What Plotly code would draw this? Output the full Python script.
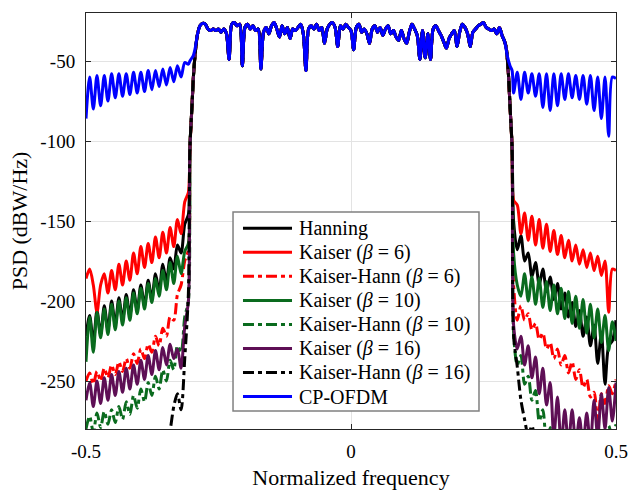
import numpy as np
import plotly.graph_objects as go

# ---------------- frequency bins ----------------
# sidelobe bins (half-ripple spacing) on each side of the occupied band
f_left = np.round(np.linspace(-0.5, -0.3068, 29), 4)
f_right = np.round(np.linspace(0.3068, 0.5, 29), 4)
# occupied band
f_pass = np.round(np.linspace(-0.29, 0.29, 117), 3)

# band edges shared by the windowed waveforms
edge_left_f = [-0.304, -0.300, -0.297, -0.293]
edge_left_db = [-105, -78, -58, -42]
edge_right_f = [0.293, 0.297, 0.300, 0.304]
edge_right_db = [-42, -58, -78, -105]

# band edges of plain CP-OFDM
cp_edge_left_f = [-0.304, -0.298, -0.294]
cp_edge_left_db = [-50, -47, -42]
cp_edge_right_f = [0.295, 0.300, 0.304]
cp_edge_right_db = [-47, -53, -56]

# in-band PSD (dBW/Hz), common to all waveforms
pass_db = [-34, -28, -26.5, -27, -30, -31, -30, -31, -30, -32,
           -30, -33, -49, -27, -26, -28, -27, -53, -29, -27,
           -30, -28, -31, -30, -55, -32, -29, -33, -28, -26,
           -30, -35, -28, -33, -29, -36, -30, -31, -29, -27,
           -33, -56, -30, -28, -30, -27, -31, -29, -39, -30,
           -27, -26, -29, -41, -28, -30, -27, -29, -31, -43,
           -29, -27, -32, -30, -33, -39, -30, -28, -32, -29,
           -34, -30, -28, -33, -31, -35, -37, -31, -36, -39,
           -32, -27, -30, -34, -49, -31, -48, -33, -49, -30,
           -28, -31, -34, -38, -42, -36, -33, -31, -41, -32,
           -27, -29, -33, -41, -32, -30, -28, -27, -26, -29,
           -30, -31, -30, -33, -29, -34, -38]

# ---------------- out-of-band PSD (dBW/Hz) ----------------
hanning_left = [-222, -209, -226, -206, -221, -203, -218, -200, -215, -198,
                -212, -196, -209, -193, -206, -190, -203, -187, -199, -183,
                -194, -177, -188, -173, -180, -165, -170, -152, -146]
hanning_right = [-150, -168, -159, -175, -170, -185, -176, -190, -180, -194,
                 -185, -199, -189, -205, -195, -210, -201, -216, -206, -222,
                 -210, -228, -215, -239, -220, -252, -228, -225, -212]

kaiser6_left = [-186, -180, -190, -207, -190, -183, -195, -181, -193, -177,
                -190, -175, -187, -170, -183, -166, -179, -164, -176, -160,
                -173, -157, -170, -154, -166, -149, -158, -138, -132]
kaiser6_right = [-137, -140, -158, -145, -162, -147, -165, -149, -167, -152,
                 -169, -156, -171, -159, -173, -162, -175, -165, -177, -168,
                 -179, -170, -181, -172, -184, -175, -207, -180, -181]

kh6_left = [-250, -245, -252, -244, -250, -242, -248, -240, -246, -238,
            -244, -236, -242, -233, -239, -230, -236, -227, -232, -222,
            -228, -217, -222, -210, -212, -196, -190, -175, -168]
kh6_right = [-190, -212, -203, -212, -208, -218, -214, -224, -220, -230,
             -226, -236, -230, -240, -234, -245, -238, -249, -243, -254,
             -249, -260, -257, -277, -258, -264, -253, -258, -249]

kaiser10_left = [-238, -210, -232, -207, -223, -205, -221, -202, -218, -200,
                 -215, -198, -212, -195, -208, -192, -205, -189, -201, -186,
                 -197, -181, -193, -176, -189, -172, -183, -169, -164]
kaiser10_right = [-170, -190, -197, -183, -200, -185, -202, -186, -204, -188,
                  -206, -190, -208, -192, -211, -194, -214, -197, -217, -199,
                  -220, -202, -223, -205, -226, -209, -231, -213, -225]

kh10_left = [-280, -272, -282, -270, -279, -269, -277, -268, -276, -266,
             -274, -263, -271, -259, -267, -255, -263, -251, -259, -247,
             -255, -243, -250, -237, -243, -228, -232, -210, -200]
kh10_right = [-220, -240, -234, -252, -247, -262, -256, -275, -268, -290,
              -279, -295, -290, -296, -291, -297, -292, -296, -290, -295,
              -289, -294, -288, -293, -287, -290, -278, -285, -277]

kaiser16_left = [-262, -251, -266, -250, -264, -248, -262, -246, -259, -244,
                 -257, -242, -255, -240, -252, -237, -249, -234, -246, -231,
                 -243, -229, -240, -227, -236, -230, -242, -216, -200]
kaiser16_right = [-215, -230, -222, -240, -228, -248, -235, -258, -242, -265,
                  -251, -285, -260, -290, -268, -290, -268, -290, -273, -290,
                  -270, -290, -262, -285, -258, -280, -254, -275, -251]

kh16_left = [None] * 22 + [-292, -281, -266, -258, -268, -236, -195]
kh16_right = [-222, -241, -262, -274, -284, -278, -292] + [None] * 22

cp_left = [-86, -60, -80, -59, -78, -59, -75, -58, -73, -58,
           -72, -58, -71, -57, -70, -57, -69, -56, -68, -56,
           -66, -55, -65, -54, -63, -53, -60, -51, -52]
cp_right = [-70, -57, -74, -57, -70, -58, -72, -58, -79, -58,
            -81, -58, -78, -58, -74, -58, -73, -59, -74, -59,
            -77, -59, -81, -60, -86, -60, -97, -60, -61]

# ---------------- axis ticks ----------------
x_ticks = [-0.5, 0, 0.5]
x_tick_text = ["-0.5", "0", "0.5"]
y_ticks = [-250, -200, -150, -100, -50]
y_tick_text = ["-250", "-200", "-150", "-100", "-50"]

FONT = "Liberation Serif"
GREEN = "#0a6b1e"
PURPLE = "#5e0f55"
DASHDOT = "11px,4px,4px,4px"
LW = 3


def windowed(left, right):
    x = list(f_left) + edge_left_f + list(f_pass) + edge_right_f + list(f_right)
    y = list(left) + edge_left_db + pass_db + edge_right_db + list(right)
    return x, y


def cp_ofdm(left, right):
    x = list(f_left) + cp_edge_left_f + list(f_pass) + cp_edge_right_f + list(f_right)
    y = list(left) + cp_edge_left_db + pass_db + cp_edge_right_db + list(right)
    return x, y


series = [
    ("Hanning", hanning_left, hanning_right, "#000000", "solid", windowed),
    ("Kaiser (<i>β</i> = 6)", kaiser6_left, kaiser6_right, "#ff0000", "solid", windowed),
    ("Kaiser-Hann (<i>β</i> = 6)", kh6_left, kh6_right, "#ff0000", DASHDOT, windowed),
    ("Kaiser (<i>β</i> = 10)", kaiser10_left, kaiser10_right, GREEN, "solid", windowed),
    ("Kaiser-Hann (<i>β</i> = 10)", kh10_left, kh10_right, GREEN, DASHDOT, windowed),
    ("Kaiser (<i>β</i> = 16)", kaiser16_left, kaiser16_right, PURPLE, "solid", windowed),
    ("Kaiser-Hann (<i>β</i> = 16)", kh16_left, kh16_right, "#000000", DASHDOT, windowed),
    ("CP-OFDM", cp_left, cp_right, "#0000ff", "solid", cp_ofdm),
]

fig = go.Figure()
for name, left, right, color, dash, build in series:
    x, y = build(left, right)
    fig.add_trace(go.Scatter(
        x=x, y=y, mode="lines", name=name, showlegend=False,
        line=dict(color=color, width=LW, dash=dash, shape="spline", smoothing=0.8),
    ))

# ---------------- legend box (paper coordinates) ----------------
LEG_X0, LEG_X1 = 0.2774, 0.7415
LEG_Y0, LEG_Y1 = 0.0433, 0.5216
ROW_TOP, ROW_STEP = 0.4825, 0.0578
SAMPLE_X0, SAMPLE_X1, TEXT_X = 0.2962, 0.3887, 0.398

shapes = [dict(type="rect", xref="paper", yref="paper",
               x0=LEG_X0, x1=LEG_X1, y0=LEG_Y0, y1=LEG_Y1,
               fillcolor="white", line=dict(color="#808080", width=1.5), layer="above")]
annotations = []
for k, (name, _, _, color, dash, _) in enumerate(series):
    yk = ROW_TOP - k * ROW_STEP
    shapes.append(dict(type="line", xref="paper", yref="paper",
                       x0=SAMPLE_X0, x1=SAMPLE_X1, y0=yk, y1=yk,
                       line=dict(color=color, width=LW, dash=dash), layer="above"))
    annotations.append(dict(xref="paper", yref="paper", x=TEXT_X, y=yk,
                            xanchor="left", yanchor="middle", showarrow=False,
                            text=name, font=dict(family=FONT, size=20, color="#000000")))

axis_common = dict(
    showline=True, linecolor="#262626", linewidth=1, mirror="ticks",
    ticks="inside", ticklen=5, tickcolor="#262626",
    showgrid=True, gridcolor="#e3e3e3", gridwidth=1,
    zeroline=False, automargin=False,
    tickfont=dict(family=FONT, size=19, color="#000000"),
)

fig.update_xaxes(
    range=[-0.5, 0.5], tickvals=x_ticks, ticktext=x_tick_text, ticklabelstandoff=5,
    title=dict(text="Normalized frequency", font=dict(family=FONT, size=22, color="#000000"), standoff=9),
    **axis_common,
)
fig.update_yaxes(
    range=[-280, -20], tickvals=y_ticks, ticktext=y_tick_text, ticklabelstandoff=6,
    title=dict(text="PSD (dBW/Hz)", font=dict(family=FONT, size=22, color="#000000"), standoff=6),
    **axis_common,
)

fig.update_layout(
    width=628, height=490,
    margin=dict(l=86, r=12, t=13, b=61),
    paper_bgcolor="white", plot_bgcolor="white",
    font=dict(family=FONT, color="#000000"),
    shapes=shapes, annotations=annotations,
    showlegend=False,
)

fig.write_html("out.html")
